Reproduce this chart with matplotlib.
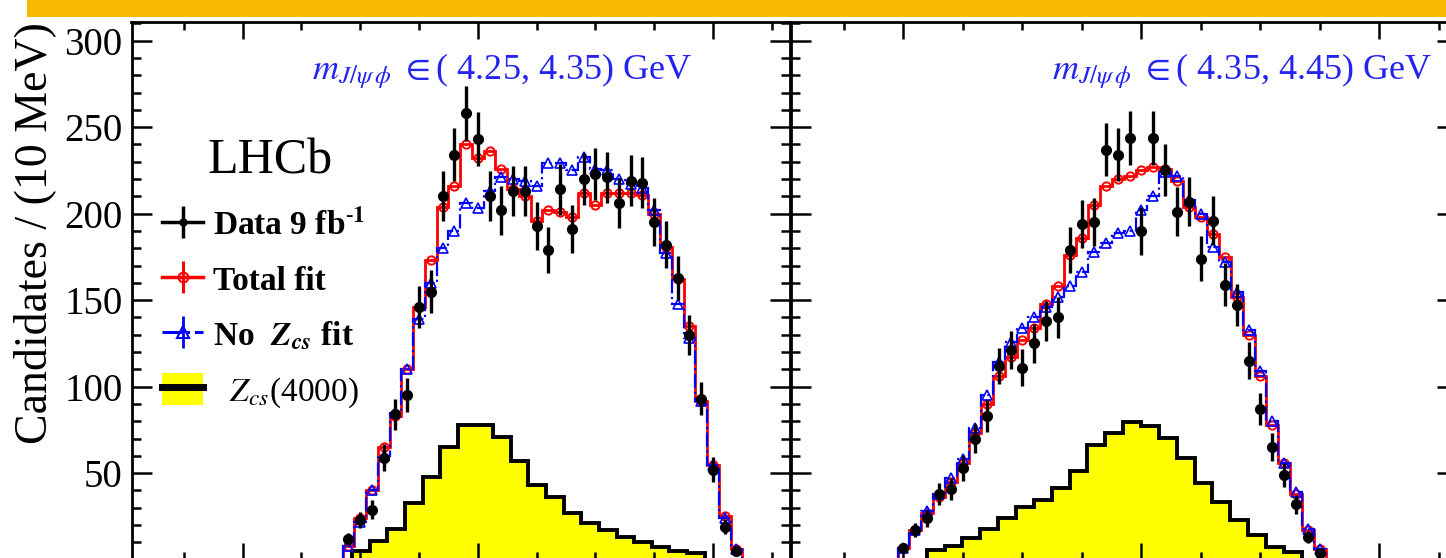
import numpy as np
import matplotlib
matplotlib.use("Agg")
import matplotlib.pyplot as plt
from matplotlib.lines import Line2D
from matplotlib.patches import Patch, Rectangle
from matplotlib.ticker import MultipleLocator
from matplotlib.legend_handler import HandlerTuple

plt.rcParams['font.family'] = ['Liberation Serif', 'DejaVu Serif']
plt.rcParams['mathtext.fontset'] = 'stix'

# ---------------- data ----------------
bin_w = 0.010          # GeV, data / fit binning
zcs_bin_w = 0.015      # GeV, Zcs component binning
x_limits = (3.7055, 4.2655)

# left panel: m(J/psi phi) in (4.25, 4.35) GeV
left_lo = 3.885
left_data = [12, 23, 29, 59, 84, 95, 146, 155, 210, 234, 258, 243, 210, 202, 213, 213, 193,
             179, 214, 191, 220, 223, 221, 206, 219, 218, 195, 182, 163, 130, 93, 52, 19, 5]
left_total = [8, 24, 40, 65, 83, 110, 146, 173, 204, 216, 240, 232, 236, 226, 214, 210, 196,
              202, 201, 198, 212, 205, 212, 212, 212, 211, 200, 181, 162, 135, 92, 55, 25, 6]
left_nozcs = [8, 22, 40, 60, 85, 110, 139, 160, 180, 190, 206, 203, 213, 221, 220, 219, 216,
              229, 229, 225, 233, 226, 225, 220, 217, 215, 202, 177, 148, 128, 92, 55, 24, 6]
left_zcs_lo = 3.893
left_zcs = [5, 11, 18, 33, 48, 65, 78, 78, 71, 57, 43, 36, 27, 21, 17, 13, 10, 7.5, 5, 4]

# right panel: m(J/psi phi) in (4.35, 4.45) GeV
right_lo = 3.795
right_data = [7, 17, 24, 38, 41, 53, 70, 83, 112, 121, 111, 125, 138, 140, 179, 194, 195, 237,
              234, 244, 190, 244, 225, 201, 207, 174, 196, 159, 147, 115, 87, 65, 49, 32, 13, 4]
right_total = [7, 17, 27, 36, 45, 56, 73, 90, 106, 117, 127, 134, 148, 158, 176, 186, 205, 216,
               220, 222, 225, 227, 226, 219, 204, 198, 188, 175, 152, 130, 106, 78, 56, 38, 17, 6]
right_nozcs = [7, 17, 28, 38, 47, 58, 76, 95, 114, 126, 134, 140, 146, 152, 158, 166, 178, 183,
               189, 190, 202, 210, 224, 222, 208, 200, 181, 172, 155, 133, 109, 80, 56, 39, 18, 6]
right_zcs_lo = 3.8196
right_zcs = [5.6, 8, 12.4, 18, 24, 30.6, 34.5, 41.3, 51.4, 66.3, 73.4, 79.8, 77.3, 70.2, 58.6,
             44.2, 33.5, 23, 14.3, 7.5, 4.6]

y_ticks = [50, 100, 150, 200, 250, 300]
slice_labels = [r"$m_{J/\psi\,\phi}$ $\in$( 4.25, 4.35) GeV",
                r"$m_{J/\psi\,\phi}$ $\in$( 4.35, 4.45) GeV"]
legend_labels = [r"Data 9 fb$^{\mathbf{\text{-}1}}$", "Total fit",
                 r"No  $\mathbfit{Z}_{\mathbfit{cs}}$ fit", r"  $Z_{cs}$(4000)"]

# ---------------- figure ----------------
W, H = 1446, 558
fig = plt.figure(figsize=(W / 100, H / 100), dpi=100)


def frac(x0, ytop, w, h):
    return [x0 / W, 1 - (ytop + h) / H, w / W, h / H]


# orange banner at the top
fig.patches.append(Rectangle((27 / W, 1 - 17 / H), (W - 27) / W, 17 / H,
                             transform=fig.transFigure, facecolor='#F6B900',
                             edgecolor='none'))

axL = fig.add_axes(frac(131.5, 22.3, 658.5, 537.4))
axR = fig.add_axes(frac(791, 22.3, 666.4, 537.4))

panels = [
    (axL, left_lo, left_data, left_total, left_nozcs, left_zcs_lo, left_zcs),
    (axR, right_lo, right_data, right_total, right_nozcs, right_zcs_lo, right_zcs),
]

for ax, lo, dat, tot, noz, zlo, zcs in panels:
    n = len(dat)
    edges = lo + bin_w * np.arange(n + 1)
    centers = 0.5 * (edges[:-1] + edges[1:])
    zedges = zlo + zcs_bin_w * np.arange(len(zcs) + 1)

    ax.stairs(zcs, zedges, fill=True, color='#FFFF00', zorder=1)
    ax.stairs(zcs, zedges, baseline=0, color='black', lw=2.8, zorder=2)

    ax.stairs(tot, edges, baseline=0, color='red', lw=2.0, zorder=3)
    ax.plot(centers, tot, ls='none', marker='o', mfc='none', mec='red', ms=6, mew=1.4, zorder=3)
    ax.stairs(noz, edges, baseline=0, color='blue', lw=1.6, ls='-.', zorder=4)
    ax.plot(centers, noz, ls='none', marker='^', mfc='none', mec='blue', ms=6.5, mew=1.2, zorder=4)

    dat_arr = np.array(dat, dtype=float)
    ax.errorbar(centers, dat_arr, yerr=np.sqrt(dat_arr), fmt='o', color='black', ms=7,
                elinewidth=2.4, capsize=0, zorder=5)

    ax.set_xlim(*x_limits)
    ax.set_ylim(0, 310.6)
    ax.xaxis.set_major_locator(MultipleLocator(0.2))
    ax.xaxis.set_minor_locator(MultipleLocator(0.05))
    ax.set_yticks(y_ticks)
    ax.yaxis.set_minor_locator(MultipleLocator(10))
    ax.tick_params(axis='both', which='both', direction='in', top=True, right=True,
                   bottom=True, left=True, labelbottom=False, width=1.8)
    ax.tick_params(axis='y', which='major', length=14.5)
    ax.tick_params(axis='y', which='minor', length=6.5)
    ax.tick_params(axis='x', which='major', length=12.5)
    ax.tick_params(axis='x', which='minor', length=6)
    for s in ax.spines.values():
        s.set_linewidth(2.0)

axL.tick_params(axis='y', labelsize=28, pad=6.5)
axR.tick_params(axis='y', labelleft=False)

# slice annotations
axL.text(312, H - 79, slice_labels[0], transform=None, fontsize=26, color='#2424F0',
         ha='left', va='baseline')
axR.text(1052, H - 79, slice_labels[1], transform=None, fontsize=26, color='#2424F0',
         ha='left', va='baseline')

# LHCb label
fig.text(270 / W, 1 - 173 / H, "LHCb", fontsize=36, ha='center', va='baseline')

# y axis title
fig.text(35 / W, 1 - 22 / H, "Candidates / (10 MeV)", fontsize=33, rotation=90,
         ha='center', va='top')

# legend
h_data = (Line2D([], [], color='k', lw=2.5),
          Line2D([], [], color='k', marker='|', ms=23, mew=2.5, ls='none'),
          Line2D([], [], color='k', marker='o', ms=5, ls='none'))
h_tot = (Line2D([], [], color='red', lw=2.5),
         Line2D([], [], color='red', marker='|', ms=23, mew=2.2, ls='none'),
         Line2D([], [], color='red', marker='o', mfc='none', mec='red', ms=7, mew=1.5, ls='none'))
h_no = (Line2D([], [], color='blue', lw=2.2, ls='-.'),
        Line2D([], [], color='blue', marker='|', ms=23, mew=2.0, ls='none'),
        Line2D([], [], color='blue', marker='^', mfc='none', mec='blue', ms=8, mew=1.5, ls='none'))
h_z = (Patch(facecolor='#FFFF00', edgecolor='none'), Line2D([], [], color='k', lw=5))

leg = axL.legend([h_data, h_tot, h_no, h_z], legend_labels,
                 handler_map={tuple: HandlerTuple(ndivide=1, pad=0)},
                 loc='upper left', bbox_to_anchor=((162 - 131.5) / 658.5, (559.7 - 208) / 537.4),
                 frameon=False, borderpad=0, borderaxespad=0, handlelength=1.24,
                 handleheight=1.1, handletextpad=0.3, labelspacing=0.62,
                 prop={'family': 'Liberation Serif', 'weight': 'bold', 'size': 24})
leg.get_texts()[3].set_fontweight('normal')

fig.savefig("out.png", dpi=100)
